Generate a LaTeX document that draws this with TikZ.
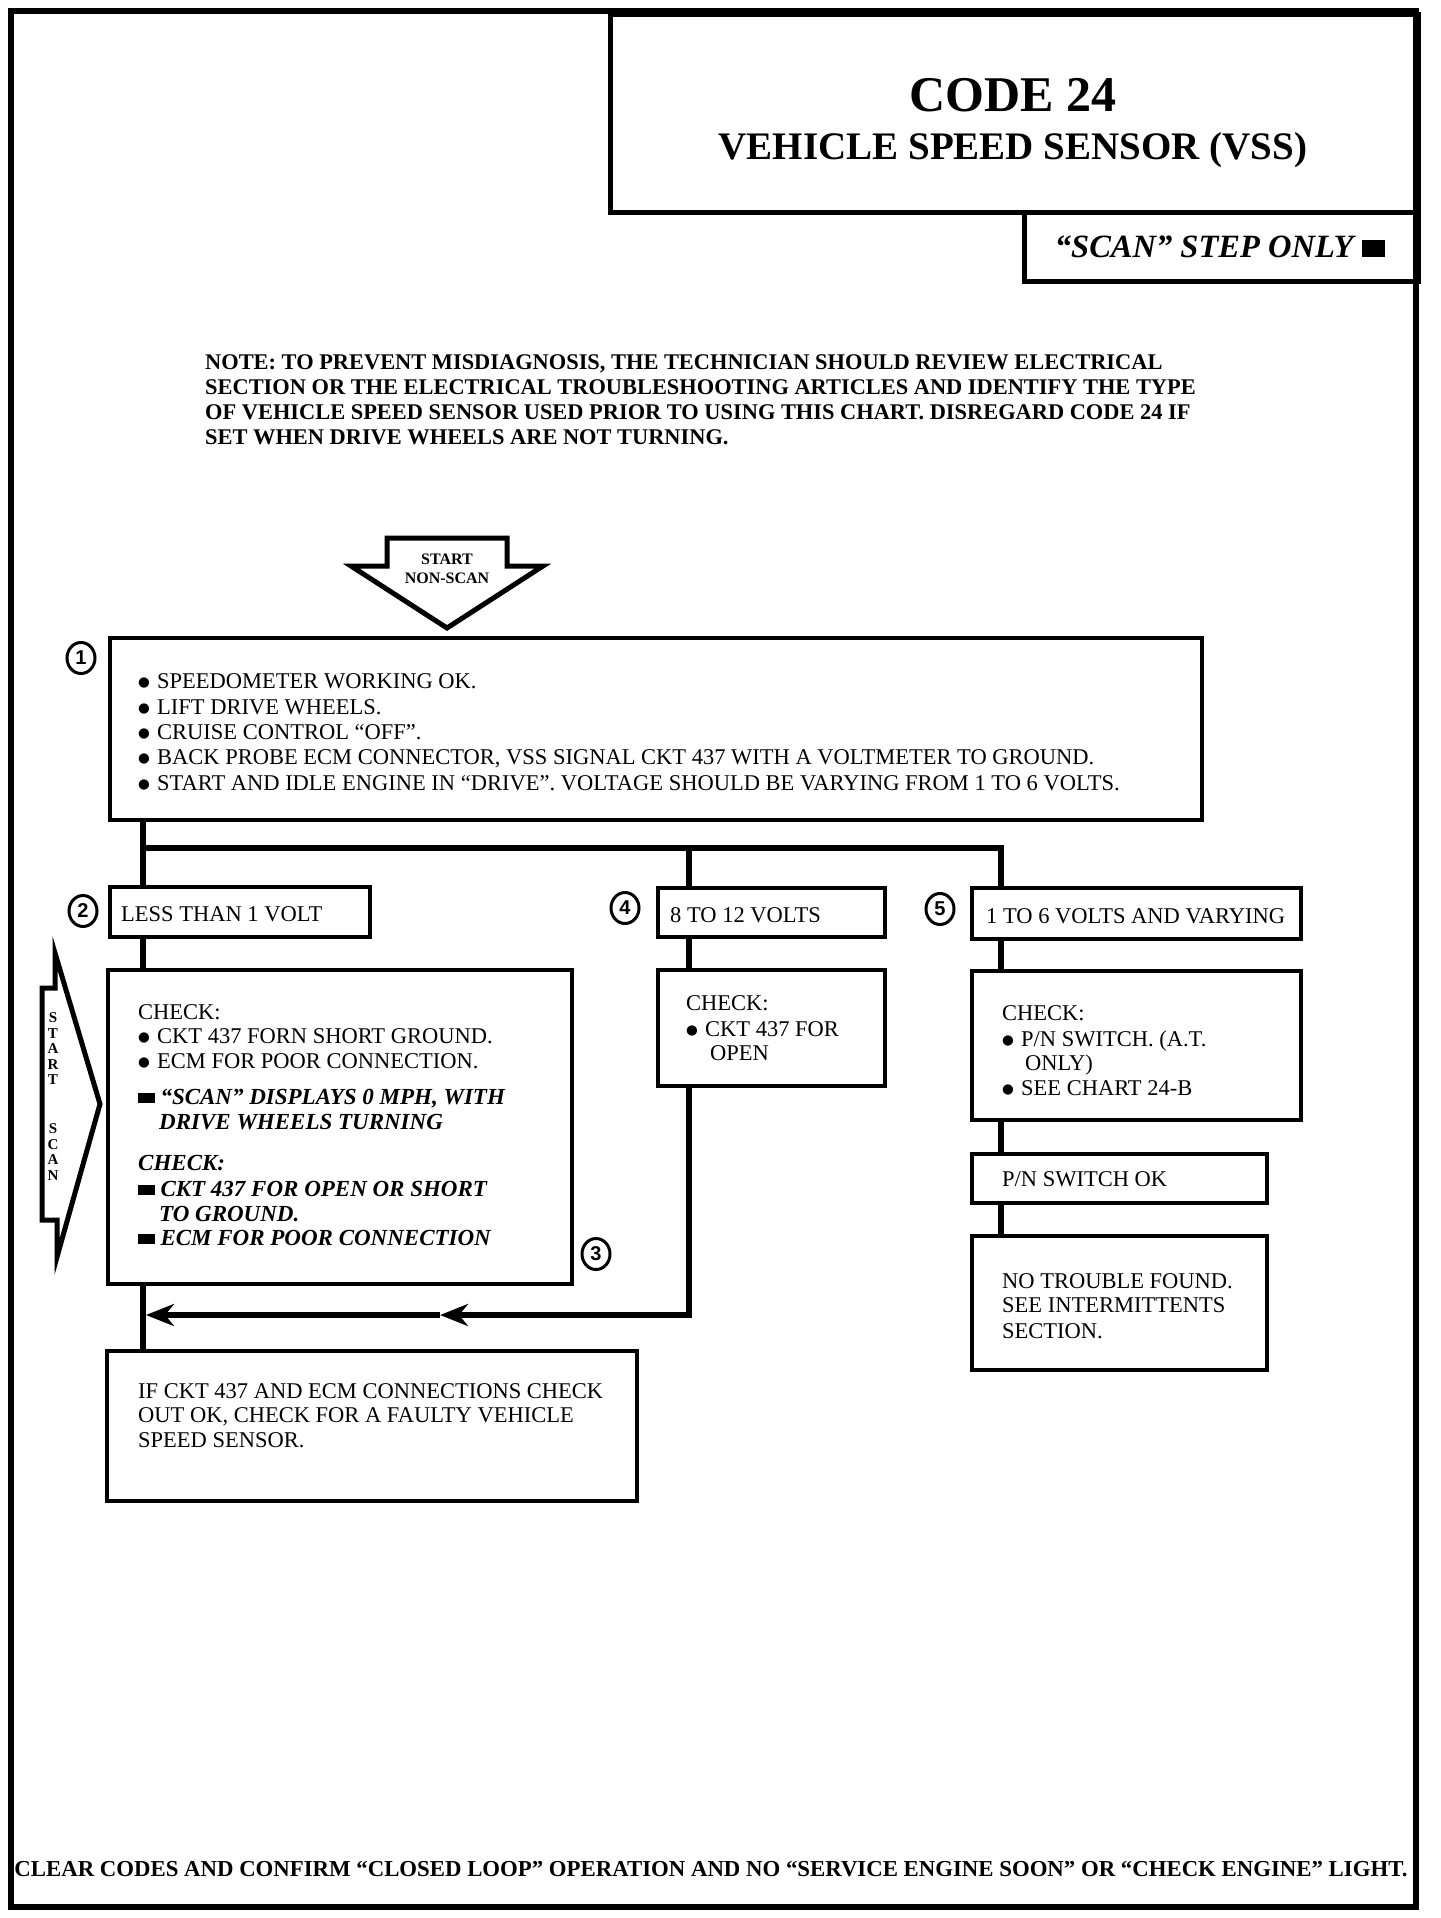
\documentclass[tikz,border=0pt]{standalone}
\usepackage{fontspec}
\setmainfont{Liberation Serif}
\setsansfont{Liberation Sans}
\newfontfamily\dejavu{DejaVu Sans}
\usepackage{graphicx}
\usetikzlibrary{arrows.meta,shapes.geometric}
\newcommand\bul{\raisebox{0.08em}{\scalebox{0.6}{\dejavu ●}}\hspace{0.32em}}
\newcommand\sqr{\rule[0.06em]{0.72em}{0.44em}\hspace{0.25em}}
\newcommand\fs[1]{\fontsize{#1}{#1}\selectfont}
\begin{document}
\begin{tikzpicture}[x=1pt,y=-1pt,
  box/.style={draw, line width=4pt, rectangle, inner sep=0pt, anchor=north west, line join=miter},
  conn/.style={line width=5.5pt},
  tip/.style={-{Stealth[length=28pt,width=22pt,inset=9pt]}},
  txt/.style={anchor=base west, inner sep=0pt, font=\fs{22.5}},
  btxt/.style={anchor=base west, inner sep=0pt, font=\fs{22.4}\bfseries},
  itxt/.style={anchor=base west, inner sep=0pt, font=\fs{23}\bfseries\itshape},
  circ/.style={draw, ellipse, line width=3pt, minimum width=28pt, minimum height=31pt, inner sep=0pt, font=\fs{20}\sffamily\bfseries},
  arrowshape/.style={line width=5pt, line join=miter}]
\fill[white] (0,0) rectangle (1440,1918);
\useasboundingbox (0,0) rectangle (1440,1918);

% outer frame
\draw[line width=6pt] (11,11) rectangle (1416,1907);

% title boxes
\node[box, line width=5pt, minimum width=808pt, minimum height=198pt] (title) at (608,12) {};
\node[box, line width=4.5pt, minimum width=394pt, minimum height=69pt] (scanbox) at (1022,210) {};
\node[anchor=base, inner sep=0pt, font=\fs{50}\bfseries] (t1) at (1013,112) {CODE 24};
\node[anchor=base, inner sep=0pt, font=\fs{39}\bfseries] (t2) at (1013,160) {VEHICLE SPEED SENSOR (VSS)};
\node[anchor=base, inner sep=0pt, font=\fs{32.5}\bfseries\itshape] (t3) at (1220,258) {“SCAN” STEP ONLY \rule[0.04em]{0.72em}{0.5em}};

% note
\node[btxt] (note1) at (205,369) {NOTE: TO PREVENT MISDIAGNOSIS, THE TECHNICIAN SHOULD REVIEW ELECTRICAL};
\node[btxt] (note2) at (205,394) {SECTION OR THE ELECTRICAL TROUBLESHOOTING ARTICLES AND IDENTIFY THE TYPE};
\node[btxt] (note3) at (205,419) {OF VEHICLE SPEED SENSOR USED PRIOR TO USING THIS CHART. DISREGARD CODE 24 IF};
\node[btxt] (note4) at (205,444) {SET WHEN DRIVE WHEELS ARE NOT TURNING.};

% start non-scan arrow
\draw[arrowshape] (387,538) -- (507,538) -- (507,566) -- (543,566) -- (447,628) -- (351,566) -- (387,566) -- cycle;
\node[anchor=base, inner sep=0pt, font=\fs{16}\bfseries] (sn1) at (447,564) {START};
\node[anchor=base, inner sep=0pt, font=\fs{16}\bfseries] (sn2) at (447,583) {NON-SCAN};

% start scan arrow
\draw[arrowshape] (42,988) -- (55,988) -- (55,953) -- (100,1104) -- (57,1257) -- (57,1220) -- (42,1220) -- cycle;
\foreach \l/\yy [count=\i] in {S/1022,T/1038,A/1053,R/1069,T/1084,S/1133,C/1149,A/1164,N/1180}
  \node[anchor=base, inner sep=0pt, font=\fs{15}\bfseries] (ss\i) at (53,\yy) {\l};

% boxes
\node[box, minimum width=1092pt, minimum height=182pt] (b1) at (108,636) {};
\node[box, minimum width=260pt, minimum height=50pt] (b2) at (108,885) {};
\node[box, minimum width=227pt, minimum height=49pt] (b4) at (656,886) {};
\node[box, minimum width=329pt, minimum height=51pt] (b5) at (970,886) {};
\node[box, minimum width=464pt, minimum height=314pt] (b3) at (106,968) {};
\node[box, minimum width=227pt, minimum height=116pt] (b4b) at (656,968) {};
\node[box, minimum width=329pt, minimum height=149pt] (b5b) at (970,969) {};
\node[box, minimum width=295pt, minimum height=49pt] (pn) at (970,1152) {};
\node[box, minimum width=295pt, minimum height=134pt] (ntf) at (970,1234) {};
\node[box, minimum width=530pt, minimum height=150pt] (b6) at (105,1349) {};

% circled numbers
\node[circ] (c1) at (81,658) {1};
\node[circ] (c2) at (83,911) {2};
\node[circ] (c3) at (596,1254) {3};
\node[circ] (c4) at (625,908) {4};
\node[circ] (c5) at (940,909) {5};

% connectors
\coordinate (bus) at (143,848);
\draw[conn] ([xshift=35pt]b1.south west) -- ([xshift=35pt]b2.north west);
\draw[conn] ([xshift=33pt]b4.north west) |- (bus);
\draw[conn] ([xshift=31pt]b5.north west) |- (bus);
\draw[conn] ([xshift=35pt]b2.south west) -- ([xshift=37pt]b3.north west);
\draw[conn] ([xshift=37pt]b3.south west) -- ([xshift=38pt]b6.north west);
\draw[conn] ([xshift=33pt]b4.south west) -- ([xshift=33pt]b4b.north west);
\coordinate (ret) at (440,1315);
\coordinate (retend) at (146,1315);
\draw[conn,tip] ([xshift=33pt]b4b.south west) |- (ret);
\draw[conn,tip] (ret) -- (retend);
\draw[conn] ([xshift=31pt]b5.south west) -- ([xshift=31pt]b5b.north west);
\draw[conn] ([xshift=31pt]b5b.south west) -- ([xshift=31pt]pn.north west);
\draw[conn] ([xshift=31pt]pn.south west) -- ([xshift=31pt]ntf.north west);

% box 1 text
\node[txt] (l11) at (138,688) {\bul SPEEDOMETER WORKING OK.};
\node[txt] (l12) at (138,714) {\bul LIFT DRIVE WHEELS.};
\node[txt] (l13) at (138,739) {\bul CRUISE CONTROL “OFF”.};
\node[txt] (l14) at (138,764) {\bul BACK PROBE ECM CONNECTOR, VSS SIGNAL CKT 437 WITH A VOLTMETER TO GROUND.};
\node[txt] (l15) at (138,790) {\bul START AND IDLE ENGINE IN “DRIVE”. VOLTAGE SHOULD BE VARYING FROM 1 TO 6 VOLTS.};

% level 2 labels
\node[txt] (l2) at (121,921) {LESS THAN 1 VOLT};
\node[txt] (l4) at (670,922) {8 TO 12 VOLTS};
\node[txt] (l5) at (986,923) {1 TO 6 VOLTS AND VARYING};

% box 3 text
\node[txt] (l31) at (138,1019) {CHECK:};
\node[txt] (l32) at (138,1043) {\bul CKT 437 FORN SHORT GROUND.};
\node[txt] (l33) at (138,1068) {\bul ECM FOR POOR CONNECTION.};
\node[itxt] (l34) at (138,1104) {\sqr “SCAN” DISPLAYS 0 MPH, WITH};
\node[itxt] (l35) at (159,1129) {DRIVE WHEELS TURNING};
\node[itxt] (l36) at (138,1170) {CHECK:};
\node[itxt] (l37) at (138,1196) {\sqr CKT 437 FOR OPEN OR SHORT};
\node[itxt] (l38) at (159,1221) {TO GROUND.};
\node[itxt] (l39) at (138,1245) {\sqr ECM FOR POOR CONNECTION};

% box 4b text
\node[txt] (l41) at (686,1010) {CHECK:};
\node[txt] (l42) at (686,1036) {\bul CKT 437 FOR};
\node[txt] (l43) at (710,1060) {OPEN};

% box 5b text
\node[txt] (l51) at (1002,1020) {CHECK:};
\node[txt] (l52) at (1002,1046) {\bul P/N SWITCH. (A.T.};
\node[txt] (l53) at (1025,1070) {ONLY)};
\node[txt] (l54) at (1002,1095) {\bul SEE CHART 24-B};

\node[txt] (lpn) at (1002,1186) {P/N SWITCH OK};
\node[txt] (ln1) at (1002,1288) {NO TROUBLE FOUND.};
\node[txt] (ln2) at (1002,1312) {SEE INTERMITTENTS};
\node[txt] (ln3) at (1002,1338) {SECTION.};

% box 6 text
\node[txt] (l61) at (138,1398) {IF CKT 437 AND ECM CONNECTIONS CHECK};
\node[txt] (l62) at (138,1422) {OUT OK, CHECK FOR A FAULTY VEHICLE};
\node[txt] (l63) at (138,1447) {SPEED SENSOR.};

% footer
\node[anchor=base, inner sep=0pt, font=\fs{22.8}\bfseries] (foot) at (711,1876) {CLEAR CODES AND CONFIRM “CLOSED LOOP” OPERATION AND NO “SERVICE ENGINE SOON” OR “CHECK ENGINE” LIGHT.};
\end{tikzpicture}
\end{document}
